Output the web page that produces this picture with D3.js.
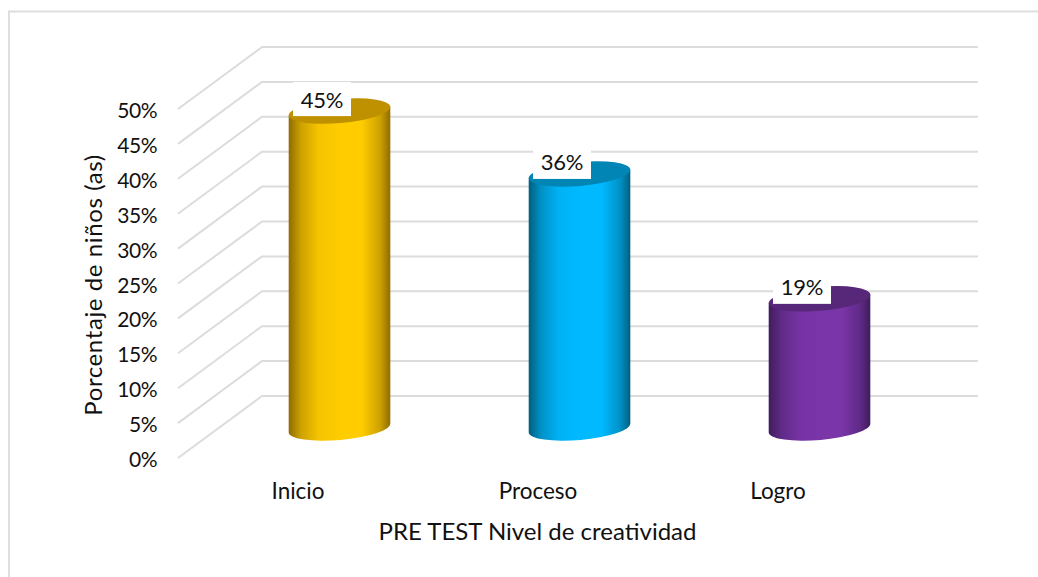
<!DOCTYPE html>
<html><head><meta charset="utf-8">
<script src="https://cdn.jsdelivr.net/npm/d3@7/dist/d3.min.js"></script>
<style>html,body{margin:0;padding:0;background:#fff}svg{display:block}text{font-family:Lato,"Open Sans",sans-serif;fill:#111}</style>
</head><body><svg id="c" width="1038" height="577"></svg>
<script>
const categories = ["Inicio","Proceso","Logro"];
const values = [45.4,36.4,18.5];
const valueLabels = ["45%","36%","19%"];
const ticks = [0,5,10,15,20,25,30,35,40,45,50];
const baseColors = ["#ffcc00","#00b9ff","#7a35a8"];
const edgeColors = ["#8f6c00","#005f80","#3f1c5c"];
const topColors = ["#bf9000","#0085b5","#57277a"];
const axisTitleY = "Porcentaje de niños (as)";
const axisTitleX = "PRE TEST Nivel de creatividad";

const svg = d3.select("#c");
svg.append("path").attr("d","M9,577 L9,11.5 L1038,11.5").attr("fill","none").attr("stroke","#dedede").attr("stroke-width",2);

const y = d3.scaleLinear().domain([0,50]).range([458,109]);
const x = d3.scaleBand().domain(categories).range([178,898]).padding(0);
const depthX = 84, depthY = -62;
const gridEnd = 978;

const grid = svg.append("g").attr("fill","none").attr("stroke","#dcdcdc").attr("stroke-width",2);
ticks.forEach(t=>{
  const p = d3.path();
  p.moveTo(178,y(t));
  p.lineTo(178+depthX,y(t)+depthY);
  p.lineTo(gridEnd,y(t)+depthY);
  grid.append("path").attr("d",p.toString());
});

const axisG = svg.append("g").style("font-size","21px").style("letter-spacing","-0.5px");
ticks.forEach(t=>{
  axisG.append("text").attr("x",157).attr("y",y(t)+0.5).attr("text-anchor","end")
    .attr("dominant-baseline","central").text(t+"%");
});
categories.forEach(c=>{
  svg.append("text").attr("x",x(c)+x.bandwidth()/2).attr("y",490).attr("text-anchor","middle")
    .attr("dominant-baseline","central").style("font-size","22.5px").text(c);
});
svg.append("text").attr("transform","translate(92,285) rotate(-90)").attr("text-anchor","middle")
  .attr("dominant-baseline","central").style("font-size","24px").style("letter-spacing","0.6px").text(axisTitleY);
svg.append("text").attr("x",537.5).attr("y",530).attr("text-anchor","middle")
  .attr("dominant-baseline","central").style("font-size","24px").text(axisTitleX);

const defs = svg.append("defs");
const rx = 51, ry = 12, rot = -5;
const halfW = rx*Math.cos(rot*Math.PI/180), tilt = -rx*Math.sin(rot*Math.PI/180);
const barOffset = 41.5, baseY = y(0)-30;
const scaleH = (y(0)-y(1));
categories.forEach((c,i)=>{
  const g = defs.append("linearGradient").attr("id","g"+i).attr("x1",0).attr("x2",1).attr("y1",0).attr("y2",0);
  [[0,edgeColors[i]],[0.12,d3.interpolateRgb(edgeColors[i],baseColors[i])(0.55)],[0.3,d3.interpolateRgb(edgeColors[i],baseColors[i])(0.92)],[0.5,baseColors[i]],[0.72,baseColors[i]],[0.9,d3.interpolateRgb(edgeColors[i],baseColors[i])(0.55)],[1,edgeColors[i]]]
    .forEach(s=>g.append("stop").attr("offset",s[0]).attr("stop-color",s[1]));
  const cx = x(c)+x.bandwidth()/2+barOffset;
  const topY = baseY - values[i]*scaleH;
  const xl = cx-halfW, xr = cx+halfW;
  const body = `M${xl},${topY+tilt} L${xr},${topY-tilt} L${xr},${baseY-tilt} A${rx},${ry} ${rot} 0 1 ${xl},${baseY+tilt} Z`;
  svg.append("path").attr("d",body).attr("fill",`url(#g${i})`);
  svg.append("ellipse").attr("cx",cx).attr("cy",topY).attr("rx",rx).attr("ry",ry)
    .attr("transform",`rotate(${rot} ${cx} ${topY})`).attr("fill",topColors[i]);
  const lx = cx-17.5, ly = topY-12;
  svg.append("rect").attr("x",lx-29).attr("y",ly-17).attr("width",58).attr("height",34).attr("fill","#fff");
  svg.append("text").attr("x",lx).attr("y",ly).attr("text-anchor","middle").attr("dominant-baseline","central")
    .style("font-size","22px").style("letter-spacing","-0.3px").text(valueLabels[i]);
});
</script></body></html>
